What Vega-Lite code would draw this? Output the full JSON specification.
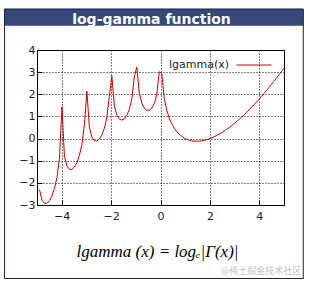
{
  "$schema": "https://vega.github.io/schema/vega-lite/v6.json",
  "width": 247,
  "height": 155,
  "autosize": "none",
  "padding": {"left": 37, "top": 50, "right": 25, "bottom": 79},
  "background": "white",
  "title": {
    "text": "log-gamma function",
    "color": "white",
    "font": "DejaVu Sans",
    "fontSize": 14,
    "fontWeight": "bold",
    "dx": -9,
    "dy": 16,
    "offset": -13.5,
    "baseline": "alphabetic"
  },
  "config": {
    "view": {"stroke": "black", "strokeWidth": 1},
    "axis": {
      "grid": true,
      "gridColor": "black",
      "gridDash": [1, 2],
      "gridOpacity": 1,
      "gridWidth": 1,
      "domain": false,
      "ticks": true,
      "tickColor": "black",
      "tickSize": -5,
      "labelOverlap": false,
      "labelFont": "DejaVu Sans",
      "labelFontSize": 11,
      "labelColor": "#222222"
    }
  },
  "data": {
    "values": [
      {"x": -4.8990, "y": -2.3067, "series": "lgamma(x)"},
      {"x": -4.7980, "y": -2.7793, "series": "lgamma(x)"},
      {"x": -4.6970, "y": -2.9297, "series": "lgamma(x)"},
      {"x": -4.5960, "y": -2.9227, "series": "lgamma(x)"},
      {"x": -4.4949, "y": -2.8051, "series": "lgamma(x)"},
      {"x": -4.3939, "y": -2.5868, "series": "lgamma(x)"},
      {"x": -4.2929, "y": -2.2551, "series": "lgamma(x)"},
      {"x": -4.1919, "y": -1.7595, "series": "lgamma(x)"},
      {"x": -4.0909, "y": -0.9045, "series": "lgamma(x)"},
      {"x": -3.9899, "y": 1.4330, "series": "lgamma(x)"},
      {"x": -3.8889, "y": -0.7947, "series": "lgamma(x)"},
      {"x": -3.7879, "y": -1.2380, "series": "lgamma(x)"},
      {"x": -3.6869, "y": -1.3895, "series": "lgamma(x)"},
      {"x": -3.5859, "y": -1.3926, "series": "lgamma(x)"},
      {"x": -3.4848, "y": -1.2870, "series": "lgamma(x)"},
      {"x": -3.3838, "y": -1.0812, "series": "lgamma(x)"},
      {"x": -3.2828, "y": -0.7601, "series": "lgamma(x)"},
      {"x": -3.1818, "y": -0.2655, "series": "lgamma(x)"},
      {"x": -3.0808, "y": 0.6320, "series": "lgamma(x)"},
      {"x": -2.9798, "y": 2.1362, "series": "lgamma(x)"},
      {"x": -2.8788, "y": 0.4926, "series": "lgamma(x)"},
      {"x": -2.7778, "y": 0.0665, "series": "lgamma(x)"},
      {"x": -2.6768, "y": -0.0934, "series": "lgamma(x)"},
      {"x": -2.5758, "y": -0.1126, "series": "lgamma(x)"},
      {"x": -2.4747, "y": -0.0254, "series": "lgamma(x)"},
      {"x": -2.3737, "y": 0.1610, "series": "lgamma(x)"},
      {"x": -2.2727, "y": 0.4654, "series": "lgamma(x)"},
      {"x": -2.1717, "y": 0.9535, "series": "lgamma(x)"},
      {"x": -2.0707, "y": 1.8978, "series": "lgamma(x)"},
      {"x": -1.9697, "y": 2.8318, "series": "lgamma(x)"},
      {"x": -1.8687, "y": 1.4830, "series": "lgamma(x)"},
      {"x": -1.7677, "y": 1.0600, "series": "lgamma(x)"},
      {"x": -1.6667, "y": 0.8798, "series": "lgamma(x)"},
      {"x": -1.5657, "y": 0.8340, "series": "lgamma(x)"},
      {"x": -1.4646, "y": 0.8905, "series": "lgamma(x)"},
      {"x": -1.3636, "y": 1.0457, "series": "lgamma(x)"},
      {"x": -1.2626, "y": 1.3207, "series": "lgamma(x)"},
      {"x": -1.1616, "y": 1.7890, "series": "lgamma(x)"},
      {"x": -1.0606, "y": 2.7820, "series": "lgamma(x)"},
      {"x": -0.9596, "y": 3.2273, "series": "lgamma(x)"},
      {"x": -0.8586, "y": 2.0424, "series": "lgamma(x)"},
      {"x": -0.7576, "y": 1.5984, "series": "lgamma(x)"},
      {"x": -0.6566, "y": 1.3750, "series": "lgamma(x)"},
      {"x": -0.5556, "y": 1.2774, "series": "lgamma(x)"},
      {"x": -0.4545, "y": 1.2764, "series": "lgamma(x)"},
      {"x": -0.3535, "y": 1.3701, "series": "lgamma(x)"},
      {"x": -0.2525, "y": 1.5822, "series": "lgamma(x)"},
      {"x": -0.1515, "y": 1.9950, "series": "lgamma(x)"},
      {"x": -0.0505, "y": 3.0170, "series": "lgamma(x)"},
      {"x": 0.0505, "y": 2.9586, "series": "lgamma(x)"},
      {"x": 0.1515, "y": 1.8173, "series": "lgamma(x)"},
      {"x": 0.2525, "y": 1.2775, "series": "lgamma(x)"},
      {"x": 0.3535, "y": 0.9243, "series": "lgamma(x)"},
      {"x": 0.4545, "y": 0.6671, "series": "lgamma(x)"},
      {"x": 0.5556, "y": 0.4704, "series": "lgamma(x)"},
      {"x": 0.6566, "y": 0.3165, "series": "lgamma(x)"},
      {"x": 0.7576, "y": 0.1950, "series": "lgamma(x)"},
      {"x": 0.8586, "y": 0.0992, "series": "lgamma(x)"},
      {"x": 0.9596, "y": 0.0246, "series": "lgamma(x)"},
      {"x": 1.0606, "y": -0.0317, "series": "lgamma(x)"},
      {"x": 1.1616, "y": -0.0730, "series": "lgamma(x)"},
      {"x": 1.2626, "y": -0.1008, "series": "lgamma(x)"},
      {"x": 1.3636, "y": -0.1164, "series": "lgamma(x)"},
      {"x": 1.4646, "y": -0.1212, "series": "lgamma(x)"},
      {"x": 1.5657, "y": -0.1162, "series": "lgamma(x)"},
      {"x": 1.6667, "y": -0.1021, "series": "lgamma(x)"},
      {"x": 1.7677, "y": -0.0797, "series": "lgamma(x)"},
      {"x": 1.8687, "y": -0.0496, "series": "lgamma(x)"},
      {"x": 1.9697, "y": -0.0123, "series": "lgamma(x)"},
      {"x": 2.0707, "y": 0.0319, "series": "lgamma(x)"},
      {"x": 2.1717, "y": 0.0822, "series": "lgamma(x)"},
      {"x": 2.2727, "y": 0.1384, "series": "lgamma(x)"},
      {"x": 2.3737, "y": 0.2002, "series": "lgamma(x)"},
      {"x": 2.4747, "y": 0.2672, "series": "lgamma(x)"},
      {"x": 2.5758, "y": 0.3397, "series": "lgamma(x)"},
      {"x": 2.6768, "y": 0.4167, "series": "lgamma(x)"},
      {"x": 2.7778, "y": 0.4984, "series": "lgamma(x)"},
      {"x": 2.8788, "y": 0.5844, "series": "lgamma(x)"},
      {"x": 2.9798, "y": 0.6748, "series": "lgamma(x)"},
      {"x": 3.0808, "y": 0.7694, "series": "lgamma(x)"},
      {"x": 3.1818, "y": 0.8678, "series": "lgamma(x)"},
      {"x": 3.2828, "y": 0.9696, "series": "lgamma(x)"},
      {"x": 3.3838, "y": 1.0753, "series": "lgamma(x)"},
      {"x": 3.4848, "y": 1.1844, "series": "lgamma(x)"},
      {"x": 3.5859, "y": 1.2972, "series": "lgamma(x)"},
      {"x": 3.6869, "y": 1.4130, "series": "lgamma(x)"},
      {"x": 3.7879, "y": 1.5320, "series": "lgamma(x)"},
      {"x": 3.8889, "y": 1.6542, "series": "lgamma(x)"},
      {"x": 3.9899, "y": 1.7793, "series": "lgamma(x)"},
      {"x": 4.0909, "y": 1.9073, "series": "lgamma(x)"},
      {"x": 4.1919, "y": 2.0381, "series": "lgamma(x)"},
      {"x": 4.2929, "y": 2.1716, "series": "lgamma(x)"},
      {"x": 4.3939, "y": 2.3079, "series": "lgamma(x)"},
      {"x": 4.4949, "y": 2.4469, "series": "lgamma(x)"},
      {"x": 4.5960, "y": 2.5883, "series": "lgamma(x)"},
      {"x": 4.6970, "y": 2.7322, "series": "lgamma(x)"},
      {"x": 4.7980, "y": 2.8785, "series": "lgamma(x)"},
      {"x": 4.8990, "y": 3.0271, "series": "lgamma(x)"},
      {"x": 5.0, "y": 3.1781, "series": "lgamma(x)"}
    ]
  },
  "layer": [
    {
      "data": {"values": [{}]},
      "mark": {"type": "rect", "fill": "#34497a", "clip": false},
      "encoding": {
        "x": {"datum": -6.336, "type": "quantitative"},
        "x2": {"datum": 5.79},
        "y": {"datum": 5.852, "type": "quantitative"},
        "y2": {"datum": 5.097}
      }
    },
    {
      "data": {"values": [{}]},
      "mark": {"type": "rect", "fill": null, "fillOpacity": 0, "stroke": "#1c2536", "strokeWidth": 1, "clip": false},
      "encoding": {
        "x": {"datum": -6.316, "type": "quantitative"},
        "x2": {"datum": 5.78},
        "y": {"datum": 5.852, "type": "quantitative"},
        "y2": {"datum": -6.319}
      }
    },
    {
      "mark": {"type": "line", "strokeWidth": 1, "clip": true},
      "encoding": {
        "x": {
          "field": "x",
          "type": "quantitative",
          "scale": {"domain": [-5, 5], "nice": false, "zero": false},
          "axis": {
            "values": [-4, -2, 0, 2, 4],
            "tickCount": 10,
            "format": "d",
            "labelPadding": 10,
            "title": "lgamma (x) = logₑ|Γ(x)|",
            "titleFont": "Liberation Serif",
            "titleFontStyle": "italic",
            "titleFontWeight": "normal",
            "titleFontSize": 17,
            "titleColor": "black",
            "titlePadding": 22,
            "titleX": 120
          }
        },
        "y": {
          "field": "y",
          "type": "quantitative",
          "scale": {"domain": [-3, 4], "nice": false, "zero": false},
          "axis": {
            "values": [-3, -2, -1, 0, 1, 2, 3, 4],
            "tickCount": 10,
            "format": "d",
            "labelPadding": 7,
            "labelOverlap": false,
            "labelFlush": false,
            "title": null
          }
        },
        "color": {
          "field": "series",
          "type": "nominal",
          "scale": {"range": ["#cc0000"]},
          "legend": {
            "title": null,
            "orient": "none",
            "legendX": 199,
            "legendY": -3,
            "symbolType": "stroke",
            "symbolSize": 1225,
            "symbolStrokeWidth": 1,
            "labelAlign": "right",
            "labelOffset": -43,
            "labelFont": "DejaVu Sans",
            "labelFontSize": 11,
            "labelColor": "#222222",
            "padding": 0
          }
        }
      }
    },
    {
      "data": {"values": [{"note": "@稀土掘金技术社区"}]},
      "mark": {"type": "text", "align": "right", "baseline": "alphabetic", "font": "Noto Sans CJK SC", "fontSize": 9, "color": "#c4c4c4", "clip": false},
      "encoding": {
        "text": {"field": "note"},
        "x": {"datum": 5.7, "type": "quantitative"},
        "y": {"datum": -6.12, "type": "quantitative"}
      }
    }
  ]
}
